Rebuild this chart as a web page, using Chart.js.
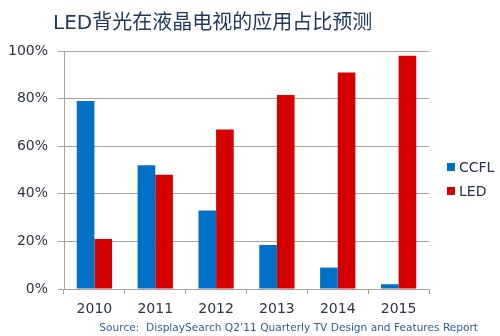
<!DOCTYPE html>
<html>
<head>
<meta charset="utf-8">
<script src="https://cdn.jsdelivr.net/npm/chart.js"></script>
<style>
  body { margin: 0; background: #fff; }
  #wrap { width: 500px; height: 336px; }
</style>
</head>
<body>
<div id="wrap"><canvas id="ledChart" width="500" height="336"></canvas></div>
<script>
const years = ['2010', '2011', '2012', '2013', '2014', '2015'];
const ccflShare = [79, 52, 33, 18.5, 9, 2];
const ledShare = [21, 48, 67, 81.5, 91, 98];
const yTicks = [0, 20, 40, 60, 80, 100];

const chartTitle = 'LED背光在液晶电视的应用占比预测';
const sourceNote = 'Source:  DisplaySearch Q2\u201911 Quarterly TV Design and Features Report';

const gridColor = '#a8a29a';
const textColor = '#2d3445';

// title, source line and the legend on the right
const extraText = {
  id: 'extraText',
  afterDraw(chart) {
    const ctx = chart.ctx;
    ctx.save();
    ctx.fillStyle = '#1f3a60';
    ctx.font = '20px "DejaVu Sans", "Noto Sans CJK SC", sans-serif';
    ctx.textAlign = 'left';
    ctx.textBaseline = 'alphabetic';
    ctx.fillText(chartTitle, 53, 29);

    ctx.fillStyle = '#2a5e9e';
    ctx.font = '10.6px "DejaVu Sans", sans-serif';
    ctx.textAlign = 'right';
    ctx.textBaseline = 'middle';
    ctx.fillText(sourceNote, 478, 328);

    ctx.font = '14px "DejaVu Sans", sans-serif';
    ctx.textAlign = 'left';
    chart.data.datasets.forEach((ds, i) => {
      const y = 167 + i * 24;
      ctx.fillStyle = ds.backgroundColor;
      ctx.fillRect(447, y - 4, 8, 8);
      ctx.fillStyle = '#28324a';
      ctx.fillText(ds.label, 459, y + 1);
    });
    ctx.restore();
  }
};

new Chart(document.getElementById('ledChart'), {
  type: 'bar',
  data: {
    labels: years,
    datasets: [
      {
        label: 'CCFL',
        data: ccflShare,
        backgroundColor: '#0070c8',
        categoryPercentage: 0.58,
        barPercentage: 1,
      },
      {
        label: 'LED',
        data: ledShare,
        backgroundColor: '#d50000',
        categoryPercentage: 0.58,
        barPercentage: 1,
      },
    ],
  },
  options: {
    responsive: false,
    animation: false,
    devicePixelRatio: 1,
    layout: {
      padding: { top: 51, right: 71, bottom: 17, left: 0 },
    },
    plugins: {
      legend: { display: false },
      title: { display: false },
      tooltip: { enabled: false },
    },
    scales: {
      x: {
        afterFit: (s) => { s.height = 30; },
        grid: {
          offset: true,
          drawOnChartArea: false,
          drawTicks: true,
          tickLength: 5,
          color: gridColor,
        },
        border: { color: gridColor, width: 1 },
        ticks: {
          padding: 7,
          color: textColor,
          font: { family: 'DejaVu Sans', size: 14 },
        },
      },
      y: {
        min: 0,
        max: 100,
        afterFit: (s) => { s.width = 64; },
        afterBuildTicks: (s) => { s.ticks = yTicks.map((v) => ({ value: v })); },
        grid: {
          color: gridColor,
          tickLength: 6,
        },
        border: { color: gridColor, width: 1 },
        ticks: {
          padding: 10,
          color: textColor,
          font: { family: 'DejaVu Sans', size: 14 },
          callback: (v) => v + '%',
        },
      },
    },
  },
  plugins: [extraText],
});
</script>
</body>
</html>
